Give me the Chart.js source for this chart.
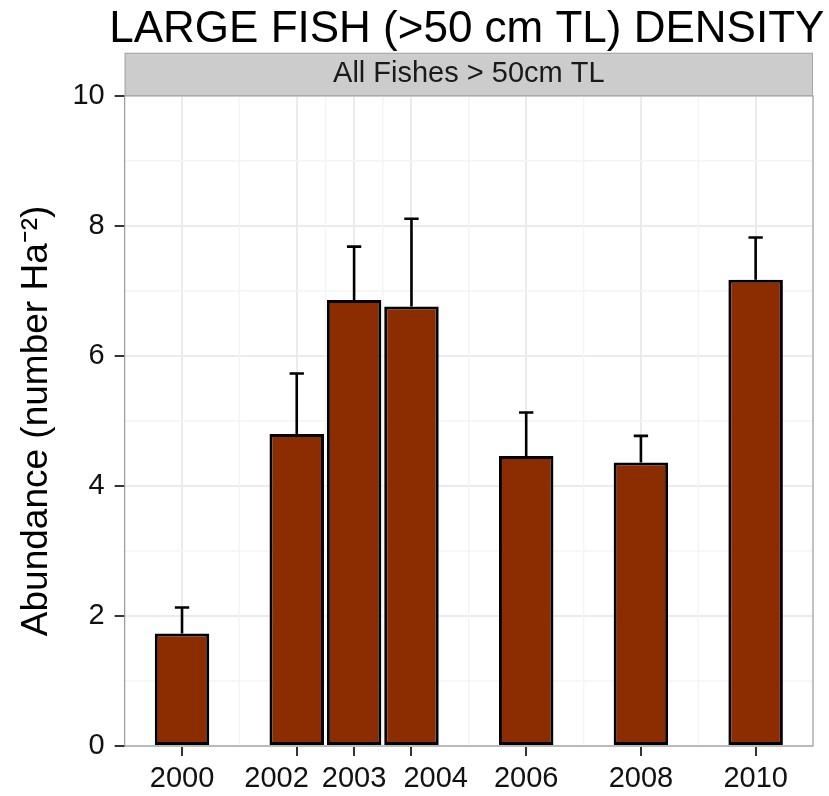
<!DOCTYPE html>
<html>
<head>
<meta charset="utf-8">
<script src="https://cdn.jsdelivr.net/npm/chart.js@4"></script>
<style>
  html, body { margin: 0; padding: 0; background: #ffffff; }
  #wrap { width: 829px; height: 796px; }
</style>
</head>
<body>
<div id="wrap"><canvas id="c" width="829" height="796"></canvas></div>
<script>
// ---- data ----
const years = [2000, 2002, 2003, 2004, 2006, 2008, 2010];
const abundance = [1.73, 4.80, 6.86, 6.76, 4.46, 4.36, 7.17];
const upperError = [2.13, 5.73, 7.68, 8.11, 5.13, 4.77, 7.82];
const xTickLabels = ['2000', '2002', '2003', '2004', '2006', '2008', '2010'];
const xMinorBreaks = [2001, 2002.5, 2003.5, 2005, 2007, 2009];
const yTicks = [0, 2, 4, 6, 8, 10];
const yMinorBreaks = [1, 3, 5, 7, 9];
const titleText = 'LARGE FISH (>50 cm TL) DENSITY';
const stripText = 'All Fishes > 50cm TL';
const yTitleText = 'Abundance (number Ha\u207B\u00B2)';

const FONT = "'Liberation Sans', Arial, Helvetica, sans-serif";
const STRIP_H = 43;

const bgPlugin = {
  id: 'bg',
  beforeDraw(chart) {
    const { ctx, chartArea: a } = chart;
    ctx.save();
    ctx.fillStyle = '#ffffff';
    ctx.fillRect(0, 0, chart.width, chart.height);
    // facet strip
    ctx.fillStyle = '#cccccc';
    ctx.fillRect(a.left, a.top - STRIP_H, a.right - a.left, STRIP_H);
    ctx.strokeStyle = '#a6a6a6';
    ctx.lineWidth = 1;
    ctx.strokeRect(a.left + 0.5, a.top - STRIP_H + 0.5, a.right - a.left - 1, STRIP_H);
    // main title (centred over the panel, may extend past it)
    ctx.fillStyle = '#000000';
    ctx.font = '44px ' + FONT;
    ctx.textAlign = 'center';
    ctx.textBaseline = 'alphabetic';
    ctx.fillText(titleText, (a.left + a.right) / 2 - 2, 42);
    ctx.restore();
  },
  beforeDatasetsDraw(chart) {
    const { ctx, chartArea: a, scales } = chart;
    ctx.save();
    ctx.strokeStyle = '#f4f4f4';
    ctx.lineWidth = 1.5;
    xMinorBreaks.forEach(v => {
      const px = scales.x.getPixelForValue(v);
      ctx.beginPath(); ctx.moveTo(px, a.top); ctx.lineTo(px, a.bottom); ctx.stroke();
    });
    yMinorBreaks.forEach(v => {
      const py = scales.y.getPixelForValue(v);
      ctx.beginPath(); ctx.moveTo(a.left, py); ctx.lineTo(a.right, py); ctx.stroke();
    });
    ctx.restore();
  },
  afterDatasetsDraw(chart) {
    const { ctx, chartArea: a, scales } = chart;
    ctx.save();
    // error bars (upper only)
    ctx.strokeStyle = '#000000';
    ctx.lineWidth = 2.6;
    years.forEach((yr, i) => {
      const xc = scales.x.getPixelForValue(yr);
      const xl = scales.x.getPixelForValue(yr - 0.125);
      const xr = scales.x.getPixelForValue(yr + 0.125);
      const y0 = scales.y.getPixelForValue(abundance[i]);
      const y1 = scales.y.getPixelForValue(upperError[i]);
      ctx.beginPath();
      ctx.moveTo(xc, y0); ctx.lineTo(xc, y1);
      ctx.moveTo(xl, y1); ctx.lineTo(xr, y1);
      ctx.stroke();
    });
    // panel border
    ctx.strokeStyle = '#999999';
    ctx.lineWidth = 1.2;
    ctx.strokeRect(a.left, a.top, a.right - a.left, a.bottom - a.top);
    ctx.restore();
  }
};

new Chart(document.getElementById('c'), {
  type: 'bar',
  data: {
    datasets: [{
      data: years.map((yr, i) => ({ x: yr, y: abundance[i] })),
      backgroundColor: '#8b2d00',
      borderColor: '#000000',
      borderWidth: 3,
      borderSkipped: false,
      barPercentage: 0.95,
      categoryPercentage: 1.0
    }]
  },
  options: {
    responsive: false,
    animation: false,
    layout: { padding: { left: 0, right: 16, top: 53, bottom: -5 } },
    plugins: {
      legend: { display: false },
      tooltip: { enabled: false },
      title: { display: false },
      subtitle: {
        display: true,
        text: stripText,
        fullSize: false,
        color: '#1a1a1a',
        font: { family: FONT, size: 29, weight: 'normal', lineHeight: 1.2 },
        padding: { top: 4, bottom: 4 }
      }
    },
    scales: {
      x: {
        type: 'linear',
        min: 1999,
        max: 2011,
        offset: false,
        afterBuildTicks(axis) {
          axis.ticks = years.map(v => ({ value: v }));
        },
        ticks: {
          autoSkip: false,
          maxRotation: 0,
          minRotation: 0,
          padding: 8,
          color: '#111111',
          font: { family: FONT, size: 29, lineHeight: 1.0 },
          callback(value) {
            const i = years.indexOf(value);
            const lab = i >= 0 ? xTickLabels[i] : '';
            if (value === 2002) return lab + '     ';
            if (value === 2004) return '      ' + lab;
            return lab;
          }
        },
        grid: {
          offset: false,
          color: '#ebebeb',
          lineWidth: 2,
          drawTicks: true,
          tickLength: 10,
          tickColor: '#333333',
          tickWidth: 2
        },
        border: { display: false }
      },
      y: {
        min: 0,
        max: 10,
        afterBuildTicks(axis) {
          axis.ticks = yTicks.map(v => ({ value: v }));
        },
        ticks: {
          padding: 10,
          color: '#111111',
          font: { family: FONT, size: 29 }
        },
        grid: {
          color: '#ebebeb',
          lineWidth: 2,
          drawTicks: true,
          tickLength: 10,
          tickColor: '#333333',
          tickWidth: 2
        },
        border: { display: false },
        title: {
          display: true,
          text: yTitleText,
          color: '#000000',
          font: { family: FONT, size: 37, weight: 'normal', lineHeight: 1.2 },
          padding: { top: 15, bottom: 3 }
        }
      }
    }
  },
  plugins: [bgPlugin]
});
</script>
</body>
</html>
